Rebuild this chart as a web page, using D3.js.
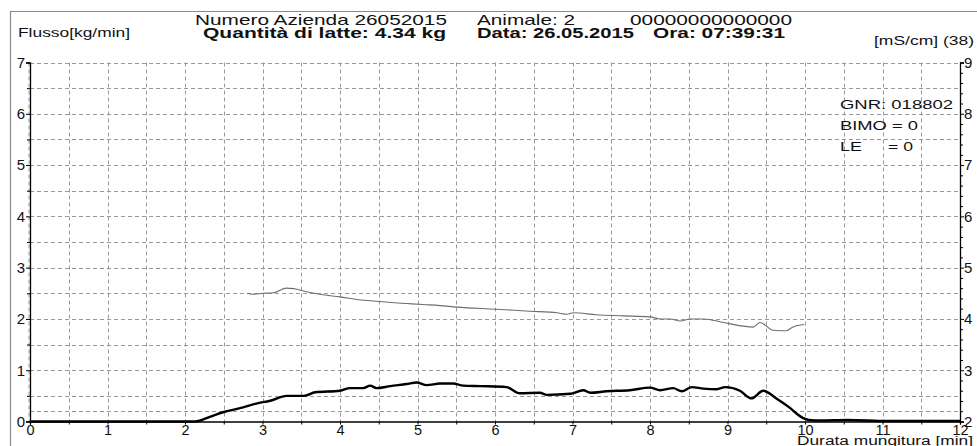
<!DOCTYPE html>
<html><head><meta charset="utf-8">
<script src="https://cdn.jsdelivr.net/npm/d3@7"></script>
<style>
body{margin:0;background:#fff;}
svg{display:block;font-family:"Liberation Sans",Arial,sans-serif;}
</style></head>
<body><svg id="c" width="977" height="446"></svg>
<script>
// Flow [kg/min] vs time [min]
const flowTime = [0,1,2,2.13,2.32,2.49,2.71,2.92,3.10,3.31,3.53,3.68,4.0,4.13,4.30,4.39,4.47,4.65,4.86,4.99,5.12,5.29,5.46,5.59,5.81,6.15,6.32,6.58,6.67,6.97,7.14,7.23,7.44,7.74,8.0,8.13,8.30,8.41,8.54,8.69,8.86,8.97,9.16,9.31,9.46,9.63,9.81,9.91,9.97,10.05,10.2,10.54,11.06,12.0];
const flowValues = [0,0,0,0,0.09,0.18,0.26,0.35,0.405,0.50,0.50,0.57,0.60,0.65,0.65,0.70,0.65,0.69,0.73,0.76,0.71,0.74,0.74,0.70,0.69,0.67,0.55,0.56,0.52,0.54,0.61,0.56,0.59,0.61,0.66,0.61,0.65,0.59,0.67,0.64,0.63,0.67,0.60,0.45,0.60,0.45,0.26,0.13,0.07,0.03,0.02,0.03,0.01,0.01];
// Conductivity [mS/cm] vs time [min]
const condTime = [2.80,2.88,3.01,3.14,3.31,3.40,3.57,3.78,4.0,4.21,4.43,4.65,4.86,5.07,5.29,5.51,6.02,6.45,6.80,6.93,7.01,7.31,7.66,8.0,8.13,8.26,8.39,8.52,8.69,8.95,9.20,9.33,9.42,9.59,9.76,9.84,9.99];
const condValues = [4.50,4.48,4.50,4.51,4.60,4.59,4.53,4.47,4.43,4.38,4.35,4.32,4.30,4.28,4.26,4.23,4.19,4.15,4.12,4.09,4.12,4.08,4.06,4.04,4.00,4.00,3.96,4.00,4.00,3.93,3.86,3.84,3.93,3.78,3.77,3.84,3.89];
const xTicks = [0,1,2,3,4,5,6,7,8,9,10,11,12];
const flowTicks = [0,1,2,3,4,5,6,7];
const condTicks = [2,3,4,5,6,7,8,9];

const svg = d3.select("#c");
const x = d3.scaleLinear([0,12],[30,960]);
const yF = d3.scaleLinear([0,7],[421.5,62.5]);
const yC = d3.scaleLinear([2,9],[421.5,62.5]);

// outer frame
svg.append("path").attr("d","M10.5,446V11.5H977").attr("fill","none").attr("stroke","#8a8a8a").attr("stroke-width",1.2);

// grid
const g = svg.append("g").attr("stroke","#9a9a9a").attr("stroke-width",1).attr("stroke-dasharray","4,3");
d3.range(0,12,0.5).forEach(v=>{
  g.append("line").attr("x1",Math.round(x(v))-(v===0?1.5:0)+0.5).attr("x2",Math.round(x(v))-(v===0?1.5:0)+0.5).attr("y1",yF(7)).attr("y2",yF(0));
});
d3.range(0.5,7.01,0.5).concat([0.2]).forEach(v=>{
  g.append("line").attr("x1",x(0)).attr("x2",x(12)).attr("y1",Math.round(yF(v))+0.5).attr("y2",Math.round(yF(v))+0.5);
});

// axes
function styleAxis(sel){
  sel.select(".domain").attr("stroke","#000").attr("stroke-width",1.3);
  sel.selectAll(".tick line").attr("stroke","#000");
  sel.selectAll("text").attr("fill","#111").style("font-family","'Liberation Sans',Arial,sans-serif");
}
const ax = svg.append("g").attr("transform",`translate(0,${yF(0)})`)
  .call(d3.axisBottom(x).tickValues(xTicks).tickSize(3).tickPadding(0).tickFormat(d3.format("d")));
styleAxis(ax); ax.selectAll("text").attr("font-size",14.5);
const axm = svg.append("g").attr("transform",`translate(0,${yF(0)})`)
  .call(d3.axisBottom(x).tickValues(d3.range(0.5,12,1)).tickSize(3).tickFormat(""));
axm.select(".domain").remove(); axm.selectAll("line").attr("stroke","#000");

const ay = svg.append("g").attr("transform",`translate(${x(0)},0)`)
  .call(d3.axisLeft(yF).tickValues(flowTicks).tickSize(4).tickPadding(1).tickFormat(d3.format("d")));
styleAxis(ay); ay.selectAll("text").attr("font-size",15);
const aym = svg.append("g").attr("transform",`translate(${x(0)},0)`)
  .call(d3.axisLeft(yF).tickValues(d3.range(0.5,7,1)).tickSize(3).tickFormat(""));
aym.select(".domain").remove(); aym.selectAll("line").attr("stroke","#000");

const ar = svg.append("g").attr("transform",`translate(${x(12)},0)`)
  .call(d3.axisRight(yC).tickValues(condTicks).tickSize(4).tickPadding(0).tickFormat(d3.format("d")));
styleAxis(ar); ar.selectAll("text").attr("font-size",15);
const arm = svg.append("g").attr("transform",`translate(${x(12)},0)`)
  .call(d3.axisRight(yC).tickValues(d3.range(2.2,9,0.2).filter(v=>Math.abs(v-Math.round(v))>0.05)).tickSize(3).tickFormat(""));
arm.select(".domain").remove(); arm.selectAll("line").attr("stroke","#000");

// lines
const flowLine = d3.line().x((d,i)=>x(flowTime[i])).y(d=>yF(d)).curve(d3.curveMonotoneX);
svg.append("path").attr("d",flowLine(flowValues)).attr("fill","none").attr("stroke","#000").attr("stroke-width",2.4).attr("stroke-linejoin","round");
const condLine = d3.line().x((d,i)=>x(condTime[i])).y(d=>yC(d)).curve(d3.curveMonotoneX);
svg.append("path").attr("d",condLine(condValues)).attr("fill","none").attr("stroke","#6e6e6e").attr("stroke-width",1.1);

// texts
function txt(s,x0,y0,size,len,bold){
  svg.append("text").attr("x",x0).attr("y",y0).attr("font-size",size)
    .attr("font-weight",bold?"bold":"normal").attr("fill","#111")
    .attr("textLength",len).attr("lengthAdjust","spacingAndGlyphs").text(s);
}
txt("Flusso[kg/min]",18,37,12.5,112,false);
txt("Numero Azienda 26052015",195,24.5,14.5,252,false);
txt("Animale: 2",477,24.5,14.5,98,false);
txt("00000000000000",630,24.5,14.5,162,false);
txt("Quantità di latte: 4.34 kg",203,38,14,243,true);
txt("Data: 26.05.2015",477,38,14,157,true);
txt("Ora: 07:39:31",653,38,14,132,true);
txt("[mS/cm] (38)",874,45,12.5,100,false);
txt("GNR: 018802",840,109,13,113,false);
txt("BIMO = 0",840,130,13,78,false);
txt("LE",840,151,13,22,false);
txt("= 0",888,151,13,25,false);
txt("Durata mungitura [min]",797,444.5,12,176,false);
</script></body></html>
